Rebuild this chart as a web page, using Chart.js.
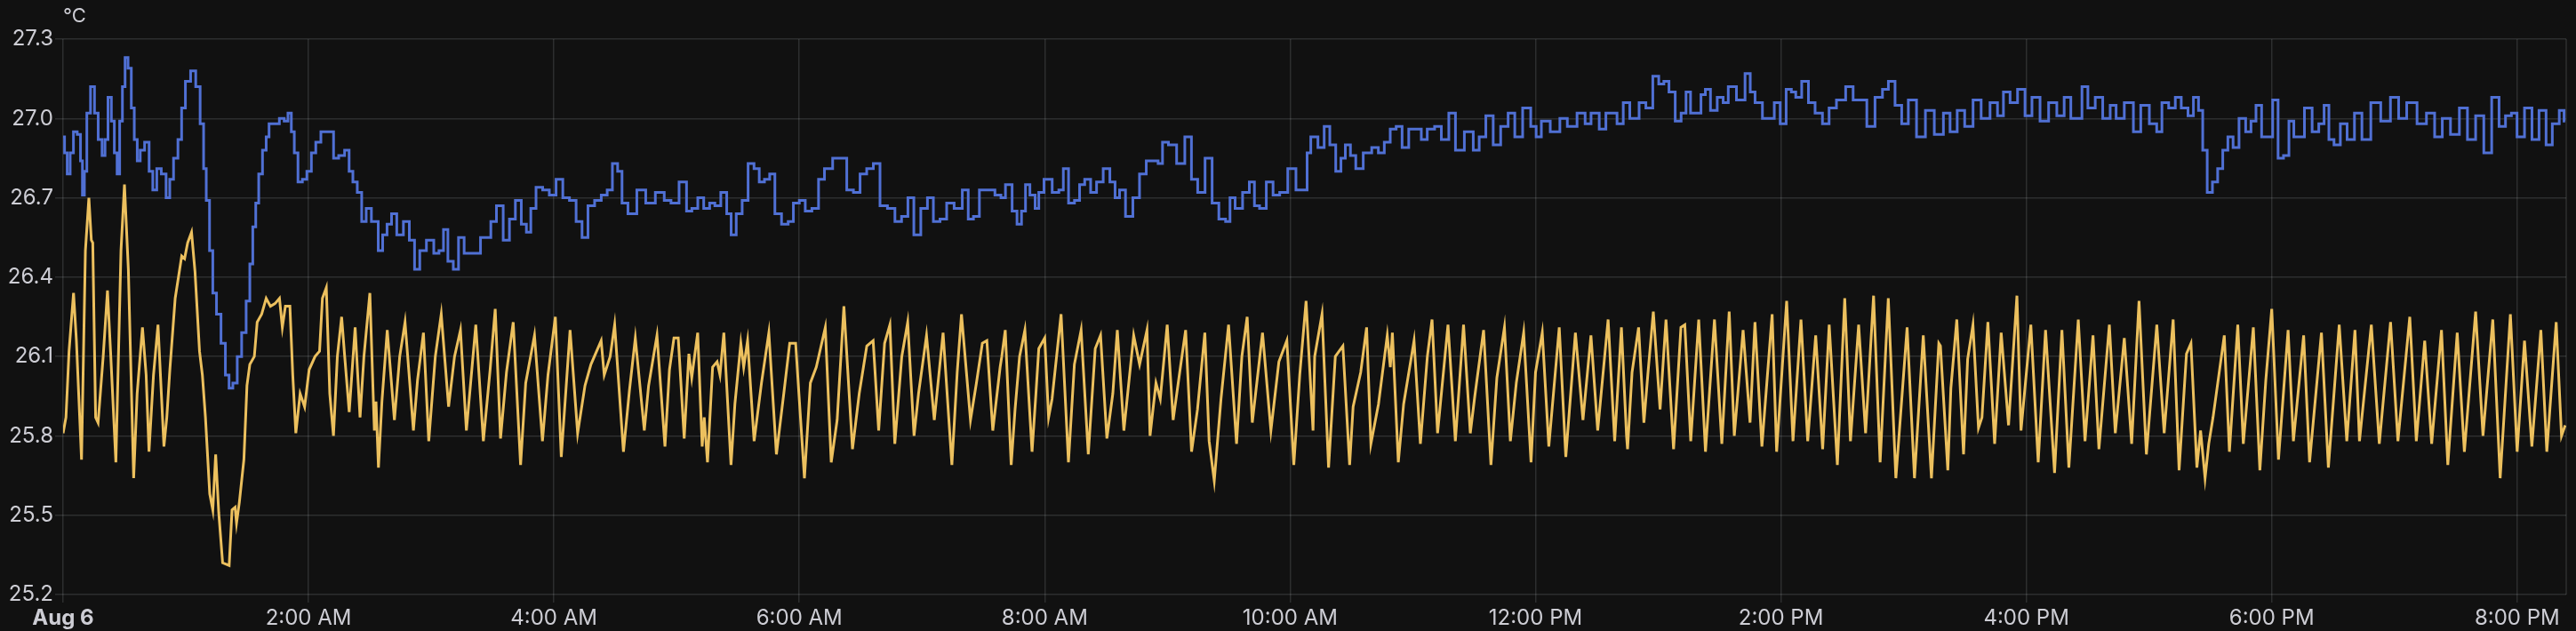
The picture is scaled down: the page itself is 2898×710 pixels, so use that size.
<!DOCTYPE html>
<html>
<head>
<meta charset="utf-8">
<script src="https://cdn.jsdelivr.net/npm/chart.js@4"></script>
<style>
  html, body { margin: 0; padding: 0; background: #111111; }
  #wrap { width: 2898px; height: 710px; }
</style>
</head>
<body>
<div id="wrap"><canvas id="tempChart"></canvas></div>
<script>
// minutes since midnight, Aug 6
var xTickMinutes = [0, 120, 240, 360, 480, 600, 720, 840, 960, 1080, 1200];
var xTickLabels = ["Aug 6", "2:00 AM", "4:00 AM", "6:00 AM", "8:00 AM", "10:00 AM",
  "12:00 PM", "2:00 PM", "4:00 PM", "6:00 PM", "8:00 PM"];
var yTickValues = [25.2, 25.5, 25.8, 26.1, 26.4, 26.7, 27.0, 27.3];
var unitLabel = "°C";

// sensor A (blue)
var sensorAMinutes = [
  0.0,1.4,2.6,4.3,5.8,8.0,9.0,9.9,10.9,12.3,14.5,16.2,18.1,20.0,21.0,22.9,24.3,25.8,27.0,28.3,
  29.7,30.9,32.6,34.1,35.5,37.0,38.4,41.3,42.8,44.9,46.7,49.3,51.4,52.9,55.1,57.2,58.7,60.9,63.8,65.9,
  68.1,69.3,70.7,72.5,73.9,76.1,78.3,80.4,81.9,84.1,86.2,88.4,90.6,92.0,93.5,94.9,96.4,98.6,100.0,101.4,
  104.3,107.2,109.0,110.9,112.3,113.8,115.9,118.1,120.3,122.5,124.6,127.5,131.2,133.3,136.2,139.1,140.6,142.8,144.9,147.1,
  149.3,152.2,
  153.0,155.2,157.3,159.5,161.7,164.6,168.2,170.4,173.3,175.5,179.8,182.7,184.9,187.1,189.2,192.4,194.3,197.9,203.0,205.2,
  208.1,210.2,213.6,216.8,219.7,222.6,225.5,227.6,229.8,232.7,236.3,239.2,242.9,245.8,249.4,252.3,255.2,258.1,261.7,264.6,
  267.5,269.7,272.6,274.0,278.4,282.7,287.1,292.1,295.8,298.7,303.7,
  306.0,308.9,311.8,314.7,317.6,319.8,323.4,325.6,327.7,330.6,333.5,336.4,339.3,341.5,344.4,346.6,349.5,353.1,356.0,358.2,
  361.8,364.0,368.3,370.5,374.1,378.5,381.4,385.0,387.9,391.5,394.4,398.0,400.9,405.3,408.2,411.8,414.4,417.6,421.2,424.1,
  427.0,430.6,433.5,437.9,441.5,443.7,446.6,449.5,453.1,458.2,
  459.0,462.6,465.5,467.4,469.9,471.3,474.2,476.4,477.8,481.5,485.8,488.0,490.2,493.1,496.0,498.1,501.0,503.9,506.8,510.4,
  513.3,515.5,517.7,521.3,524.9,527.8,531.5,534.4,536.5,538.7,542.3,546.7,550.3,553.2,556.4,560.4,563.3,567.0,569.9,571.3,
  574.9,578.6,581.5,583.6,586.5,590.2,593.1,596.7,601.0,604.7,607.6,609.0,611.2,
  612.0,615.2,618.1,620.7,623.9,625.8,628.2,630.8,633.4,638.1,641.7,644.6,647.5,650.4,653.3,656.2,659.8,663.4,664.9,669.2,
  672.1,675.8,679.4,682.3,688.1,691.0,693.9,697.5,701.1,704.8,708.4,711.3,716.1,719.2,721.4,724.3,730.1,733.7,737.4,743.2,
  745.3,749.0,753.3,755.5,758.4,761.3,764.5,
  765.0,767.2,769.3,772.0,775.9,778.8,781.7,783.8,786.7,789.9,792.5,794.7,796.9,799.8,802.0,804.1,807.0,810.7,812.8,815.7,
  820.8,824.1,825.9,828.8,833.1,835.3,838.2,841.1,844.0,846.2,848.3,852.0,854.9,858.5,862.1,865.0,869.3,874.0,876.6,880.2,
  883.8,888.2,891.1,894.0,897.6,900.5,904.1,908.5,912.8,917.2,
  918.0,920.9,924.5,927.9,931.8,936.1,939.7,944.8,947.0,950.6,953.5,957.9,960.8,964.7,968.7,973.1,976.7,980.3,983.2,986.1,
  988.3,991.9,995.5,999.2,1002.8,1005.0,1010.8,1013.9,1018.0,1022.3,1025.2,1027.4,1031.8,1033.9,1037.6,1040.5,1042.9,1045.5,1047.0,1049.9,
  1052.1,1055.0,1057.1,1060.0,1062.2,1065.8,1068.7,
  1071.0,1073.6,1076.5,1079.0,1081.9,1084.3,1087.2,1089.6,1092.0,1094.2,1097.8,1101.7,1104.3,1106.9,1109.0,1111.9,1115.2,1118.5,1122.4,1125.8,
  1131.1,1135.5,1140.6,1143.5,1148.5,1153.6,1157.7,1161.6,1165.2,1169.6,1173.9,1177.5,1181.9,1185.5,1189.6,1192.7,1195.9,1198.5,1201.4,1205.8,
  1208.7,1212.7,1215.6,1218.8,1222.4,1223.5
];
var sensorATemps = [
  26.93,26.87,26.79,26.87,26.95,26.94,26.84,26.71,26.80,27.02,27.12,27.02,26.92,26.86,26.92,27.08,26.99,26.87,26.79,26.99,
  27.12,27.23,27.19,27.04,26.92,26.84,26.88,26.91,26.80,26.73,26.81,26.79,26.70,26.77,26.85,26.92,27.04,27.14,27.18,27.12,
  26.98,26.81,26.69,26.50,26.34,26.26,26.15,26.03,25.98,26.00,26.10,26.19,26.31,26.45,26.59,26.68,26.79,26.88,26.93,26.98,
  26.98,27.00,26.99,27.02,26.95,26.87,26.76,26.77,26.80,26.87,26.91,26.95,26.95,26.85,26.86,26.88,26.80,26.76,26.72,26.61,
  26.66,26.61,
  26.61,26.50,26.56,26.60,26.64,26.56,26.61,26.54,26.43,26.50,26.54,26.49,26.50,26.58,26.46,26.43,26.55,26.49,26.49,26.55,
  26.55,26.61,26.67,26.54,26.62,26.69,26.60,26.57,26.66,26.74,26.73,26.71,26.77,26.70,26.69,26.61,26.55,26.67,26.69,26.71,
  26.73,26.83,26.80,26.68,26.64,26.73,26.68,26.72,26.69,26.68,26.76,
  26.65,26.66,26.70,26.66,26.68,26.67,26.72,26.64,26.56,26.64,26.69,26.83,26.81,26.76,26.77,26.79,26.64,26.60,26.61,26.68,
  26.69,26.65,26.66,26.77,26.81,26.85,26.85,26.73,26.72,26.79,26.81,26.83,26.67,26.66,26.61,26.63,26.70,26.56,26.66,26.70,
  26.61,26.62,26.68,26.66,26.73,26.62,26.63,26.73,26.73,26.71,
  26.70,26.75,26.65,26.60,26.65,26.75,26.71,26.66,26.72,26.77,26.72,26.73,26.81,26.68,26.69,26.75,26.77,26.72,26.76,26.81,
  26.76,26.70,26.73,26.63,26.70,26.79,26.84,26.84,26.83,26.91,26.90,26.83,26.93,26.77,26.72,26.85,26.68,26.62,26.61,26.70,
  26.66,26.72,26.76,26.67,26.66,26.76,26.71,26.72,26.81,26.73,26.73,26.87,26.93,
  26.93,26.89,26.97,26.90,26.80,26.85,26.90,26.86,26.81,26.87,26.89,26.87,26.91,26.96,26.97,26.89,26.96,26.96,26.92,26.96,
  26.97,26.92,27.02,26.88,26.95,26.88,26.93,27.01,26.90,26.97,27.02,26.93,27.04,26.97,26.93,26.99,26.95,27.00,26.97,27.02,
  26.98,27.02,26.96,27.02,27.02,26.98,27.06,
  27.06,27.00,27.00,27.06,27.04,27.16,27.13,27.14,27.10,26.99,27.02,27.10,27.02,27.02,27.09,27.11,27.03,27.08,27.06,27.12,
  27.07,27.17,27.10,27.06,27.00,27.00,27.06,26.98,27.11,27.10,27.08,27.14,27.06,27.02,26.98,27.04,27.07,27.12,27.07,27.07,
  26.97,27.08,27.11,27.14,27.05,26.98,27.07,26.93,27.03,26.94,
  26.94,27.02,26.95,27.03,26.97,27.07,27.00,27.06,27.01,27.10,27.06,27.11,27.01,27.08,26.99,27.06,27.01,27.08,27.00,27.00,
  27.12,27.04,27.08,27.00,27.05,27.00,27.06,26.95,27.05,26.98,26.95,27.06,27.04,27.08,27.04,27.01,27.08,27.03,26.88,26.72,
  26.76,26.81,26.88,26.93,26.89,27.00,26.95,
  26.99,27.05,26.93,26.93,27.07,26.85,26.86,26.99,26.93,26.93,27.04,26.95,26.98,27.05,26.92,26.90,26.98,26.92,27.02,26.92,
  27.06,26.99,27.08,27.00,27.06,26.98,27.02,26.93,27.00,26.94,27.04,26.92,27.01,26.87,27.08,26.97,27.01,27.02,26.93,27.04,
  26.92,27.03,26.90,26.98,27.03,26.99
];

// sensor B (yellow)
var sensorBMinutes = [
  0.0,1.4,2.9,5.1,6.5,9.0,10.9,12.6,13.8,14.5,15.9,17.1,18.1,19.6,21.7,23.2,25.8,28.3,30.0,31.9,
  34.5,36.2,38.8,40.6,42.0,44.2,46.4,49.3,50.7,52.2,54.8,58.0,59.4,60.9,62.8,64.5,66.7,68.1,69.6,71.7,
  73.2,74.6,76.1,78.0,81.2,82.6,84.1,84.8,86.2,88.4,89.9,91.3,93.5,94.9,97.1,99.3,101.4,103.6,105.8,107.2,
  108.7,110.9,112.3,113.8,115.9,118.1,120.3,123.2,125.4,126.8,128.7,130.4,132.2,134.1,136.2,137.7,139.9,142.8,145.2,147.1,
  150.0,152.2,
  153.0,154.2,155.9,158.5,162.0,164.6,167.2,171.3,173.3,176.2,178.8,182.0,184.9,188.5,191.4,194.3,197.2,199.4,201.8,205.5,
  208.8,211.3,213.9,216.8,220.1,223.7,226.2,230.5,234.4,237.1,240.7,243.6,247.9,251.6,255.2,258.1,263.1,264.6,267.5,269.7,
  274.0,276.9,279.8,284.2,286.3,290.4,294.3,296.5,298.7,300.8,303.7,
  306.0,307.4,310.3,312.5,313.5,315.1,317.6,319.8,321.2,323.1,326.6,328.5,331.4,332.8,334.7,337.9,341.5,345.1,348.8,352.4,
  355.3,358.2,362.5,365.4,368.3,372.7,375.6,378.5,381.8,386.0,389.3,393.0,396.1,398.8,401.7,404.3,406.7,410.1,413.0,416.1,
  418.3,422.2,426.0,430.3,434.6,437.2,439.3,443.7,446.6,449.5,451.7,454.6,458.2,
  459.0,460.7,463.6,465.5,467.7,470.3,473.8,475.7,477.1,480.0,481.9,483.6,488.0,491.6,494.5,497.8,501.3,504.7,507.3,510.4,
  513.3,515.5,518.7,523.5,526.4,530.0,531.5,534.4,536.5,539.9,542.8,546.0,548.9,551.8,554.7,558.3,560.4,562.9,566.2,569.9,
  573.8,576.4,579.0,581.5,586.5,590.6,594.5,598.4,601.8,604.7,607.8,611.2,
  612.0,615.6,618.8,622.1,625.8,629.1,630.8,634.5,637.4,639.5,643.2,647.5,649.0,650.0,652.9,655.5,660.6,663.7,667.1,669.4,
  672.1,677.2,680.8,684.8,688.1,690.3,694.6,698.2,701.1,704.8,707.7,710.6,714.2,717.8,720.0,723.3,726.5,731.6,734.8,739.5,
  743.2,747.1,750.4,755.5,758.7,762.0,764.5,
  765.0,767.2,770.4,773.0,774.9,777.6,780.9,783.8,787.5,791.1,793.0,795.9,799.8,803.1,807.5,811.1,814.7,817.2,821.5,824.9,
  827.3,830.7,835.7,837.9,842.8,845.9,849.8,853.1,857.0,860.4,863.6,867.6,871.2,874.0,878.0,881.4,885.3,888.5,892.5,896.2,
  901.7,905.3,909.6,913.6,917.2,
  918.0,921.6,923.1,926.0,929.3,931.3,933.9,936.6,938.3,941.2,944.5,947.7,951.3,955.4,957.4,962.2,965.8,969.4,973.8,977.4,
  980.8,985.4,988.7,992.6,995.5,1000.6,1003.5,1007.9,1011.5,1015.1,1018.7,1023.8,1027.4,1031.8,1034.7,1038.3,1040.5,1043.4,1045.2,1047.4,
  1049.2,1051.3,1056.8,1059.3,1063.4,1066.1,
  1071.0,1074.2,1077.1,1080.0,1083.3,1088.0,1090.6,1095.6,1098.5,1104.3,1107.7,1113.0,1116.7,1120.7,1122.9,1128.7,1132.6,1138.1,1141.7,1147.5,
  1150.7,1154.8,1158.2,1163.0,1166.1,1170.7,1174.2,1179.7,1183.3,1188.1,1191.7,1196.7,1200.0,1203.6,1207.2,1211.6,1214.5,1219.1,1221.7,1223.5
];
var sensorBTemps = [
  25.81,25.87,26.12,26.34,26.16,25.71,26.50,26.70,26.54,26.53,25.87,25.85,25.95,26.10,26.35,26.12,25.70,26.50,26.75,26.43,
  25.64,25.96,26.21,26.03,25.74,26.03,26.22,25.76,25.87,26.05,26.32,26.48,26.47,26.53,26.57,26.42,26.12,26.03,25.87,25.58,
  25.52,25.73,25.51,25.32,25.31,25.52,25.53,25.47,25.55,25.71,25.99,26.07,26.10,26.23,26.26,26.32,26.29,26.30,26.32,26.21,
  26.29,26.29,26.03,25.81,25.96,25.91,26.05,26.10,26.12,26.32,26.36,25.96,25.80,26.10,26.25,26.10,25.89,26.21,25.87,26.10,
  26.34,25.82,
  25.93,25.68,25.93,26.20,25.86,26.10,26.23,25.82,26.01,26.19,25.78,26.10,26.26,25.91,26.10,26.20,25.82,26.01,26.22,25.78,
  26.05,26.28,25.79,26.04,26.23,25.69,26.00,26.18,25.78,26.03,26.25,25.72,26.20,25.81,25.99,26.07,26.16,26.03,26.10,26.22,
  25.74,25.97,26.17,25.82,25.99,26.18,25.76,26.05,26.17,26.17,25.79,
  26.11,26.02,26.19,25.76,25.87,25.70,26.06,26.08,26.03,26.19,25.69,25.92,26.15,26.06,26.16,25.78,26.00,26.19,25.73,25.96,
  26.15,26.15,25.64,26.00,26.06,26.21,25.70,25.86,26.29,25.75,25.96,26.14,26.16,25.82,26.15,26.22,25.77,26.10,26.23,25.80,
  25.96,26.18,25.86,26.19,25.69,26.04,26.26,25.86,26.00,26.15,26.16,25.82,26.06,
  26.10,26.20,25.69,25.90,26.10,26.20,25.74,25.96,26.13,26.17,25.87,25.94,26.26,25.70,26.07,26.20,25.73,26.13,26.18,25.79,
  25.96,26.20,25.82,26.18,26.07,26.20,25.80,26.00,25.94,26.22,25.86,26.04,26.20,25.74,25.90,26.19,25.78,25.63,25.94,26.22,
  25.77,26.10,26.25,25.85,26.19,25.82,26.08,26.16,25.69,26.03,26.31,25.82,
  26.10,26.26,25.68,26.10,26.14,25.69,25.91,26.04,26.21,25.77,25.92,26.18,26.06,26.19,25.70,25.92,26.16,25.77,26.10,26.24,
  25.81,26.22,25.78,26.22,25.81,25.95,26.20,25.69,26.02,26.21,25.78,26.00,26.19,25.70,26.04,26.19,25.76,26.21,25.72,26.19,
  25.86,26.18,25.82,26.24,25.78,26.21,25.80,
  25.75,26.04,26.21,25.85,26.03,26.27,25.90,26.24,25.75,26.21,26.22,25.78,26.24,25.74,26.24,25.77,26.27,25.80,26.20,25.85,
  26.23,25.76,26.26,25.74,26.31,25.78,26.24,25.78,26.18,25.75,26.22,25.69,26.32,25.78,26.22,25.81,26.33,25.70,26.32,25.64,
  26.21,25.64,26.18,25.64,26.15,
  26.14,25.67,25.98,26.24,25.73,26.09,26.22,25.83,25.87,26.23,25.77,26.19,25.84,26.33,25.82,26.22,25.70,26.20,25.66,26.20,
  25.68,26.24,25.78,26.18,25.75,26.22,25.81,26.17,25.77,26.31,25.73,26.22,25.81,26.24,25.67,26.11,26.15,25.68,25.82,25.64,
  25.77,25.87,26.18,25.74,26.22,25.77,
  26.21,25.67,26.01,26.28,25.71,26.20,25.78,26.18,25.70,26.19,25.68,26.22,25.78,26.20,25.78,26.22,25.77,26.23,25.78,26.25,
  25.78,26.16,25.77,26.20,25.69,26.19,25.74,26.27,25.80,26.24,25.64,26.26,25.74,26.16,25.76,26.20,25.74,26.23,25.80,25.84
];

var textColor = "#cdcdd4";
var gridColor = "rgba(240,250,255,0.13)";

function toPoints(xs, ys) {
  return xs.map(function (x, i) { return { x: x, y: ys[i] }; });
}

// unit label above the y axis + right frame edge
var framePlugin = {
  id: "frame",
  afterDraw: function (chart) {
    var ctx = chart.ctx, a = chart.chartArea;
    ctx.save();
    ctx.strokeStyle = gridColor;
    ctx.lineWidth = 1.5;
    ctx.beginPath();
    ctx.moveTo(a.right, a.top);
    ctx.lineTo(a.right, a.bottom);
    ctx.stroke();
    ctx.fillStyle = textColor;
    ctx.font = "22px Inter";
    ctx.textAlign = "left";
    ctx.textBaseline = "middle";
    ctx.fillText(unitLabel, a.left, 18);
    ctx.restore();
  }
};

Chart.defaults.font.family = "Inter, Roboto, sans-serif";

var ctx = document.getElementById("tempChart").getContext("2d");
var tempChart = new Chart(ctx, {
  type: "line",
  data: {
    datasets: [{
      label: "Sensor A",
      data: toPoints(sensorAMinutes, sensorATemps),
      borderColor: "#5070d4",
      borderWidth: 3,
      pointRadius: 0,
      stepped: "middle",
      fill: false
    }, {
      label: "Sensor B",
      data: toPoints(sensorBMinutes, sensorBTemps),
      borderColor: "#ecc05e",
      borderWidth: 3,
      pointRadius: 0,
      tension: 0,
      fill: false
    }]
  },
  options: {
    responsive: true,
    maintainAspectRatio: false,
    animation: false,
    layout: { padding: { top: 44, right: 11, left: 0, bottom: 0 } },
    plugins: { legend: { display: false }, tooltip: { enabled: false } },
    scales: {
      x: {
        type: "linear",
        min: 0,
        max: 1224,
        afterBuildTicks: function (axis) {
          axis.ticks = xTickMinutes.map(function (v) { return { value: v }; });
        },
        afterFit: function (axis) { axis.height = 41; },
        ticks: {
          autoSkip: false,
          maxRotation: 0,
          padding: 3,
          color: textColor,
          font: function (c) {
            return { size: 24, weight: c.index === 0 ? "bold" : "normal" };
          },
          callback: function (value, index) { return xTickLabels[index]; }
        },
        grid: { color: gridColor, lineWidth: 1.5, tickLength: 9 },
        border: { display: false }
      },
      y: {
        min: 25.2,
        max: 27.3,
        afterBuildTicks: function (axis) {
          axis.ticks = yTickValues.map(function (v) { return { value: v }; });
        },
        afterFit: function (axis) { axis.width = 71; },
        ticks: {
          padding: 2,
          color: textColor,
          font: { size: 24 },
          callback: function (value) { return value.toFixed(1); }
        },
        grid: { color: gridColor, lineWidth: 1.5, tickLength: 9 },
        border: { display: false }
      }
    }
  },
  plugins: [framePlugin]
});
</script>
</body>
</html>
